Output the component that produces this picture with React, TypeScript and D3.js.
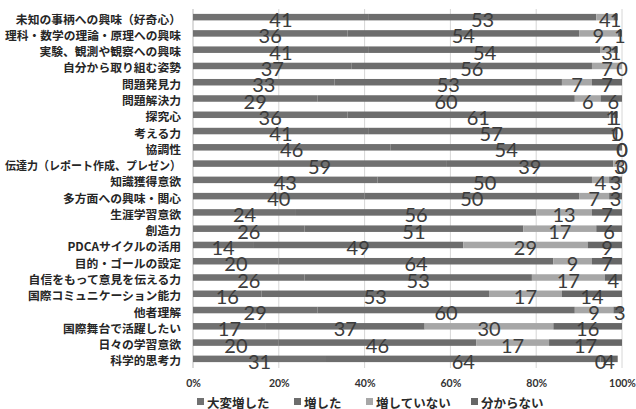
import { useEffect, useRef } from 'react';
import * as d3 from 'd3';

const CATEGORIES = [
  '未知の事柄への興味（好奇心）',
  '理科・数学の理論・原理への興味',
  '実験、観測や観察への興味',
  '自分から取り組む姿勢',
  '問題発見力',
  '問題解決力',
  '探究心',
  '考える力',
  '協調性',
  '伝達力（レポート作成、プレゼン）',
  '知識獲得意欲',
  '多方面への興味・関心',
  '生涯学習意欲',
  '創造力',
  'PDCAサイクルの活用',
  '目的・ゴールの設定',
  '自信をもって意見を伝える力',
  '国際コミュニケーション能力',
  '他者理解',
  '国際舞台で活躍したい',
  '日々の学習意欲',
  '科学的思考力',
];

const VERY_MUCH = [41, 36, 41, 37, 33, 29, 36, 41, 46, 59, 43, 40, 24, 26, 14, 20, 26, 16, 29, 17, 20, 31];
const INCREASED = [53, 54, 54, 56, 53, 60, 61, 57, 54, 39, 50, 50, 56, 51, 49, 64, 53, 53, 60, 37, 46, 64];
const NOT_INCREASED = [4, 9, 3, 7, 7, 6, 1, 1, 0, 3, 4, 7, 13, 17, 29, 9, 17, 17, 9, 30, 17, 0];
const UNKNOWN = [1, 1, 1, 0, 7, 6, 1, 0, 0, 0, 3, 3, 7, 6, 9, 7, 4, 14, 3, 16, 17, 4];

const SERIES_NAMES = ['大変増した', '増した', '増していない', '分からない'];
const SERIES_COLORS = ['#717171', '#6d6d6d', '#a7a7a7', '#676767'];
const X_TICKS = [0, 0.2, 0.4, 0.6, 0.8, 1];

const WIDTH = 636;
const HEIGHT = 409;
const JP_FONT = '"Noto Sans CJK JP", "Noto Sans", sans-serif';
const NUM_FONT = 'Lato, "Open Sans", sans-serif';

export default function App() {
  const ref = useRef<SVGSVGElement | null>(null);

  useEffect(() => {
    if (!ref.current) return;
    const svg = d3.select(ref.current);
    svg.selectAll('*').remove();

    const allSeries = [VERY_MUCH, INCREASED, NOT_INCREASED, UNKNOWN];
    const rows = CATEGORIES.map((name, i) => {
      const row: any = { name };
      allSeries.forEach((s, k) => (row['s' + k] = s[i]));
      return row;
    });
    const keys = ['s0', 's1', 's2', 's3'];
    // percentages are stacked as-is (some rows add up to 99 or 101)
    const stacked = d3.stack<any>().keys(keys)(rows);

    const x = d3.scaleLinear().domain([0, 100]).range([193, 622]);
    const y = d3
      .scaleBand()
      .domain(CATEGORIES)
      .range([9, 367])
      .paddingInner(0.6)
      .paddingOuter(0.3);

    // gridlines
    svg
      .append('g')
      .selectAll('line')
      .data(X_TICKS)
      .join('line')
      .attr('x1', d => x(d * 100))
      .attr('x2', d => x(d * 100))
      .attr('y1', 9)
      .attr('y2', 368)
      .attr('stroke', d => (d === 0 ? '#b8b8b8' : '#d6d6d6'))
      .attr('stroke-width', 1);

    // bars
    svg
      .append('g')
      .selectAll('g')
      .data(stacked)
      .join('g')
      .attr('fill', (_, i) => SERIES_COLORS[i])
      .selectAll('rect')
      .data(d => d)
      .join('rect')
      .attr('x', d => x(d[0]))
      .attr('width', d => Math.max(0, x(Math.min(d[1], 100)) - x(d[0])))
      .attr('y', d => y(d.data.name)!)
      .attr('height', y.bandwidth());

    // value labels
    svg
      .append('g')
      .selectAll('g')
      .data(stacked)
      .join('g')
      .selectAll('text')
      .data(d => d)
      .join('text')
      .attr('x', d => x(Math.min((d[0] + d[1]) / 2, 100)))
      .attr('y', d => y(d.data.name)! + y.bandwidth() / 2 + 2)
      .attr('text-anchor', 'middle')
      .attr('dominant-baseline', 'central')
      .attr('fill', '#3c3c3c')
      .style('font-family', NUM_FONT)
      .style('font-size', '20px')
      .text(d => String(d[1] - d[0]));

    // category labels, squeezed when wider than the room left of the axis
    svg
      .append('g')
      .selectAll('text')
      .data(CATEGORIES)
      .join('text')
      .attr('x', 181)
      .attr('y', d => y(d)! + y.bandwidth() / 2 + 1)
      .attr('text-anchor', 'end')
      .attr('dominant-baseline', 'central')
      .attr('fill', '#262626')
      .style('font-family', JP_FONT)
      .style('font-weight', 700)
      .style('font-size', '11.8px')
      .text(d => d)
      .each(function () {
        const el = this as SVGTextElement;
        if (el.getComputedTextLength() > 176) {
          el.setAttribute('textLength', '176');
          el.setAttribute('lengthAdjust', 'spacingAndGlyphs');
        }
      });

    // x axis tick labels
    const axis = svg
      .append('g')
      .attr('transform', 'translate(0,377)')
      .call(d3.axisBottom(x).tickValues(X_TICKS.map(t => t * 100)).tickSize(0).tickFormat(d => `${d}%`));
    axis.select('.domain').remove();
    axis
      .selectAll('text')
      .attr('fill', '#333')
      .style('font-family', NUM_FONT)
      .style('font-weight', 700)
      .style('font-size', '10.5px');

    // legend
    const legendX = [197, 294, 366, 471];
    const legend = svg
      .append('g')
      .selectAll('g')
      .data(SERIES_NAMES)
      .join('g')
      .attr('transform', (_, i) => `translate(${legendX[i]},401)`);
    legend
      .append('rect')
      .attr('x', 0)
      .attr('y', -3)
      .attr('width', 7)
      .attr('height', 7)
      .attr('fill', (_, i) => SERIES_COLORS[i]);
    legend
      .append('text')
      .attr('x', 10)
      .attr('y', 1)
      .attr('dominant-baseline', 'central')
      .attr('fill', '#2a2a2a')
      .style('font-family', JP_FONT)
      .style('font-weight', 700)
      .style('font-size', '12.5px')
      .text(d => d);
  }, []);

  return (
    <div style={{ position: 'absolute', left: 0, top: 0, width: WIDTH, height: HEIGHT, background: '#fff' }}>
      <svg ref={ref} width={WIDTH} height={HEIGHT} />
    </div>
  );
}
